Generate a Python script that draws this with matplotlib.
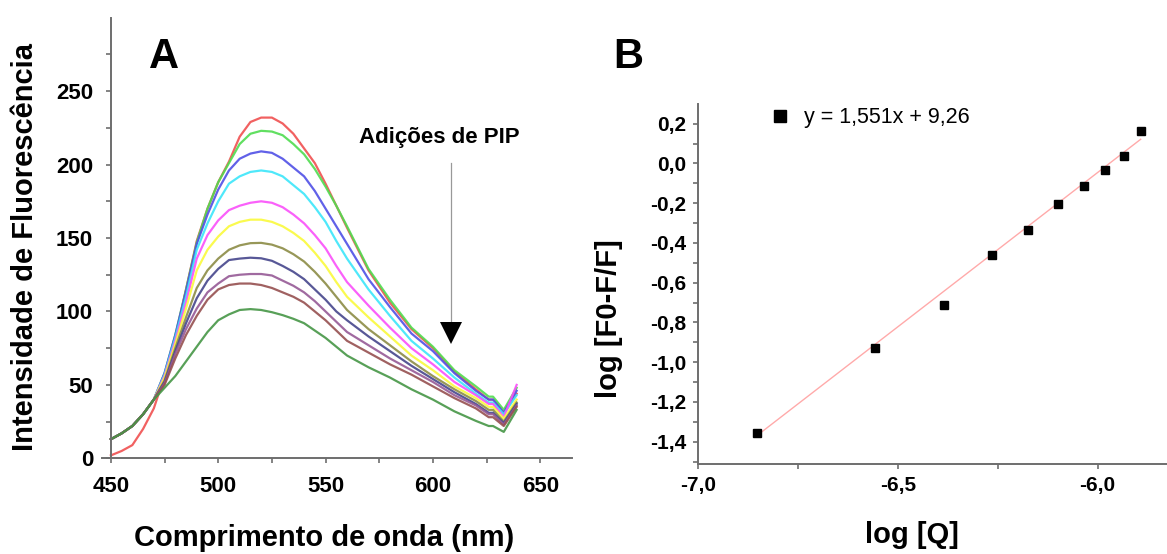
import numpy as np
import matplotlib.pyplot as plt
from matplotlib.ticker import MultipleLocator, FixedLocator

plt.rcParams['font.family'] = ['Liberation Sans', 'DejaVu Sans']

# ---- panel A : emission spectra ----
wavelength = [450, 455, 460, 465, 470, 475, 480, 485, 490, 495, 500, 505, 510, 515, 520, 525,
              530, 535, 540, 545, 550, 555, 560, 570, 580, 590, 600, 610, 620, 626, 628, 633, 639]

red = [2, 5, 9, 20, 34, 56, 82, 115, 148, 170, 188, 202, 219, 229, 232, 232,
       228, 221, 211, 201, 187, 172, 157, 128, 106, 88, 75, 59, 47, 40, 40, 31, 44]
green = [13, 17, 22, 30, 40, 58, 84, 115, 147, 170, 188, 201, 214, 221, 223, 222.5,
         220, 214, 207, 197, 185, 172, 158, 129, 108, 89, 76, 60, 49, 42, 42, 33, 48]
blue = [13, 17, 22, 30, 40, 58, 84, 114, 146, 166, 183, 196, 204, 207.5, 209, 208,
        204, 198, 192, 182, 170, 158, 146, 122, 103, 85, 73, 58, 46, 40, 40, 31, 46]
cyan = [13, 17, 22, 30, 40, 57, 82, 110, 142, 160, 175, 187, 192, 195, 196, 195,
        192, 186, 180, 171, 161, 148, 136, 115, 97, 80, 68, 55, 44, 38, 38, 30, 43]
magenta = [13, 17, 22, 30, 40, 56, 80, 106, 136, 152, 162, 169, 172, 174, 175, 174,
           171, 166, 160, 152, 143, 131, 120, 104, 89, 75, 64, 52, 43, 37, 37, 28, 50]
yellow = [13, 17, 22, 30, 40, 55, 78, 102, 128, 142, 151, 158, 161, 162.5, 162.5, 161,
          158, 153.5, 148, 140, 131, 120, 110, 96, 83, 70, 60, 49, 41, 35, 35, 27, 40]
olive = [13, 17, 22, 30, 40, 53, 75, 96, 116, 128, 136, 142, 145, 146.5, 146.7, 145.5,
         143, 139, 134, 127, 119, 110, 101, 88, 77, 66, 56, 47, 39, 33, 33, 25, 38]
navy = [13, 17, 22, 30, 40, 52, 73, 92, 109, 121, 129, 135, 136, 136.6, 136.2, 134.5,
        131, 127, 122, 115, 108, 100, 94, 83, 73, 63, 54, 45, 37, 31, 31, 24, 37]
purple = [13, 17, 22, 30, 40, 51, 71, 88, 102, 113, 119, 124, 125, 125.5, 125.5, 124.5,
          121, 117.5, 113, 107, 100, 93, 86, 77, 68, 60, 52, 43, 36, 30, 30, 23, 36]
brown = [13, 17, 22, 30, 40, 50, 68, 84, 97, 108, 115, 118, 119, 119, 118, 116,
         113, 110, 106, 100, 94, 87, 80, 72, 64, 57, 49, 41, 34, 28, 28, 22, 35]
dkgreen = [13, 17, 22, 30, 40, 48, 56, 66, 76, 86, 94, 98, 101, 101.6, 101, 99.5,
           97.5, 95, 92, 87, 82, 76, 70, 62, 55, 47, 40, 32, 25.5, 22, 22, 18, 33]

spectra = [red, green, blue, cyan, magenta, yellow, olive, navy, purple, brown, dkgreen]
spectra_colors = ['#f05050', '#50dc50', '#5050e6', '#3ce6fa', '#fa50fa', '#fafa3c',
                  '#8c8c46', '#46468c', '#965a96', '#965050', '#469646']

a_yticks = [0, 50, 100, 150, 200, 250]
a_xticks = [450, 500, 550, 600, 650]

# ---- panel B : double log plot ----
log_q = [-6.852, -6.557, -6.385, -6.265, -6.173, -6.098, -6.034, -5.981, -5.934, -5.892]
log_f = [-1.356, -0.929, -0.710, -0.461, -0.337, -0.202, -0.113, -0.031, 0.035, 0.164]
slope, intercept = 1.551, 9.26
fit_label = 'y = 1,551x + 9,26'

b_xticks = [-7.0, -6.5, -6.0]
b_xticklabels = ['-7,0', '-6,5', '-6,0']
b_yticks = [-1.4, -1.2, -1.0, -0.8, -0.6, -0.4, -0.2, 0.0, 0.2]
b_yticklabels = ['-1,4', '-1,2', '-1,0', '-0,8', '-0,6', '-0,4', '-0,2', '0,0', '0,2']

axis_grey = '#6e6e6e'

fig = plt.figure(figsize=(11.67, 5.54), dpi=100)


def style_axes(ax):
    for s in ['top', 'right']:
        ax.spines[s].set_visible(False)
    for s in ['left', 'bottom']:
        ax.spines[s].set_color(axis_grey)
        ax.spines[s].set_linewidth(1.4)
    ax.tick_params(which='both', direction='out', length=3.8, width=1.2, color=axis_grey)


# panel A
axA = fig.add_axes([0.0871, 0.1727, 0.4027, 0.7953])
for vals, c in zip(spectra, spectra_colors):
    axA.plot(wavelength, vals, color=c, lw=1.6, alpha=0.9)
axA.set_xlim(445.7, 664.6)
axA.set_ylim(0, 300)
style_axes(axA)
axA.spines['left'].set_position(('data', 450))
axA.yaxis.set_major_locator(FixedLocator(a_yticks))
axA.yaxis.set_minor_locator(FixedLocator([25, 75, 125, 175, 225, 275]))
axA.xaxis.set_major_locator(FixedLocator(a_xticks))
axA.xaxis.set_minor_locator(FixedLocator([475, 525, 575, 625]))
axA.tick_params(axis='y', which='major', pad=9)
axA.tick_params(axis='x', which='major', pad=9)
for lab in axA.get_xticklabels() + axA.get_yticklabels():
    lab.set_fontsize(16)
    lab.set_fontweight('bold')

# arrow "Adições de PIP"
axA.plot([608.6, 608.6], [201, 93], color='#999999', lw=0.9)
axA.plot([608.6], [85.3], marker='v', ms=16, color='black', mew=0)
fig.text(439.3 / 1167, 1 - 143 / 554, 'Adições de PIP', fontsize=16, fontweight='bold',
         ha='center', va='baseline')

fig.text(163.7 / 1167, 1 - 57.4 / 554, 'A', fontsize=30, fontweight='bold', ha='center', va='center')
fig.text(25.3 / 1167, 1 - 247 / 554, 'Intensidade de Fluorescência', fontsize=21, fontweight='bold',
         rotation=90, ha='center', va='center')
fig.text(323.7 / 1167, 1 - 538 / 554, 'Comprimento de onda (nm)', fontsize=21, fontweight='bold',
         ha='center', va='center')

# panel B
axB = fig.add_axes([698.3 / 1167, 1 - 463.6 / 554, (1167 - 698.3) / 1167, (463.6 - 104.2) / 554])
xfit = np.array([min(log_q), max(log_q)])
axB.plot(xfit, slope * xfit + intercept, color='#ffaaaa', lw=1.0)
pts, = axB.plot(log_q, log_f, 's', color='black', ms=5.5, label=fit_label)
axB.set_xlim(-7.0, -5.826)
axB.set_ylim(-1.51, 0.298)
style_axes(axB)
axB.set_xticks(b_xticks)
axB.set_xticklabels(b_xticklabels)
axB.set_yticks(b_yticks)
axB.set_yticklabels(b_yticklabels)
axB.xaxis.set_minor_locator(MultipleLocator(0.25))
axB.yaxis.set_minor_locator(MultipleLocator(0.1))
axB.tick_params(axis='y', which='major', pad=5)
axB.tick_params(axis='x', which='major', pad=5)
for lab in axB.get_xticklabels() + axB.get_yticklabels():
    lab.set_fontsize(15)
    lab.set_fontweight('bold')

axB.legend(handles=[pts], loc='upper left', bbox_to_anchor=(0.137, 1.015), borderaxespad=0,
           frameon=False, fontsize=15.5, handlelength=0.8, handletextpad=0.75, markerscale=1.6)

fig.text(628.7 / 1167, 1 - 57.4 / 554, 'B', fontsize=30, fontweight='bold', ha='center', va='center')
fig.text(609 / 1167, 1 - 319 / 554, 'log [F0-F/F]', fontsize=21, fontweight='bold',
         rotation=90, ha='center', va='center')
fig.text(912 / 1167, 1 - 535 / 554, 'log [Q]', fontsize=21, fontweight='bold',
         ha='center', va='center')

fig.savefig('out.png', dpi=100)
